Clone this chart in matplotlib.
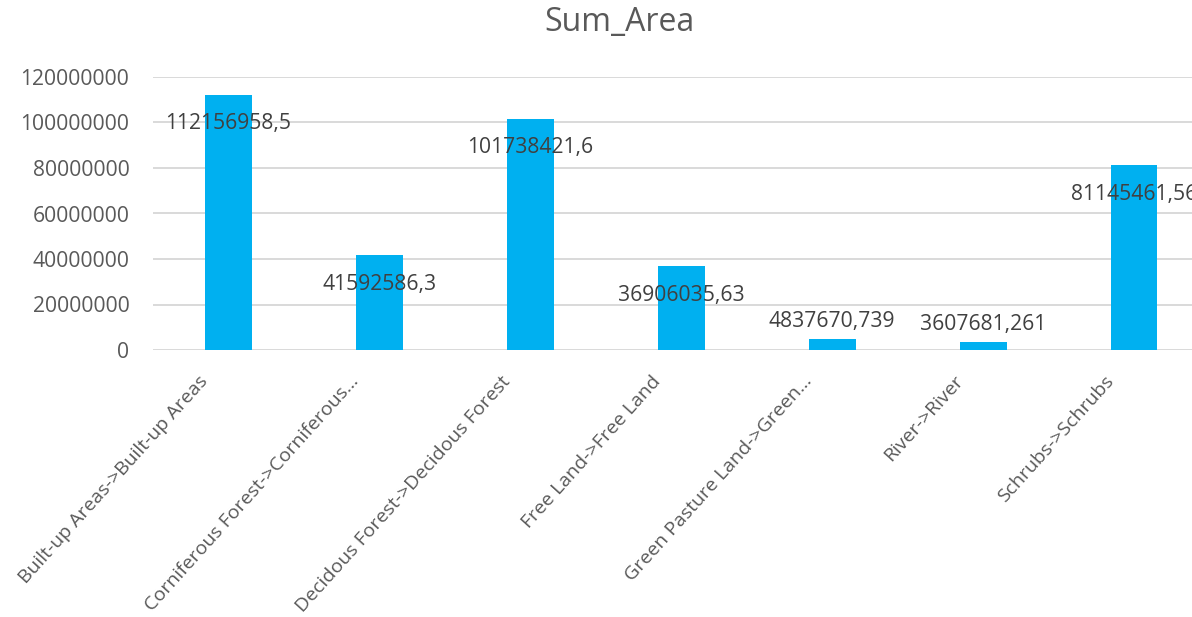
import matplotlib.pyplot as plt
import matplotlib.transforms as mtrans
from matplotlib.ticker import MultipleLocator, FuncFormatter

categories = [
    "Built-up Areas->Built-up Areas",
    "Corniferous Forest->Corniferous…",
    "Decidous Forest->Decidous Forest",
    "Free Land->Free Land",
    "Green Pasture Land->Green…",
    "River->River",
    "Schrubs->Schrubs",
]
values = [112156958.5, 41592586.3, 101738421.6, 36906035.63, 4837670.739, 3607681.261, 81145461.56]
value_labels = ["112156958,5", "41592586,3", "101738421,6", "36906035,63",
                "4837670,739", "3607681,261", "81145461,56"]

BAR = "#00B0F0"
TXT = "#595959"
GRID = "#D9D9D9"

plt.rcParams["font.family"] = ["Open Sans", "DejaVu Sans"]

fig = plt.figure(figsize=(11.92, 6.17), dpi=100)
W, H = 1192, 617
left, right = 153, 1209.5
top, bottom = 77, 350
ax = fig.add_axes([left / W, 1 - bottom / H, (right - left) / W, (bottom - top) / H])

x = range(len(categories))
ax.bar(x, values, width=0.31, color=BAR, zorder=2)
ax.set_xlim(-0.5, len(categories) - 0.5)
ax.set_ylim(0, 120000000)
ax.yaxis.set_major_locator(MultipleLocator(20000000))
ax.yaxis.set_major_formatter(FuncFormatter(lambda v, p: f"{int(v)}"))
ax.grid(axis="y", color=GRID, linewidth=1.4, zorder=0)
for s in ax.spines.values():
    s.set_visible(False)
ax.tick_params(axis="y", length=0, pad=17, labelsize=15.2, labelcolor=TXT)
ax.tick_params(axis="x", length=0, pad=16, labelsize=14, labelcolor=TXT)
ax.set_xticks(list(x))
ax.set_xticklabels(categories, rotation=48, ha="right", rotation_mode="anchor")
# Excel ends the slanted labels a little left of the bar center
offset = mtrans.ScaledTranslation(-30 / 100, 0, fig.dpi_scale_trans)
for lab in ax.get_xticklabels():
    lab.set_transform(lab.get_transform() + offset)

for i, (v, t) in enumerate(zip(values, value_labels)):
    dy = -29 if v > 20000000 else 17
    ax.annotate(t, (i, v), xytext=(0, dy), textcoords="offset pixels",
                ha="center", va="center", fontsize=15.2, color="#404040", zorder=3)

fig.text(619 / W, 1 - 22 / H, "Sum_Area", ha="center", va="center", fontsize=23, color=TXT)

fig.savefig("out.png", dpi=100)
